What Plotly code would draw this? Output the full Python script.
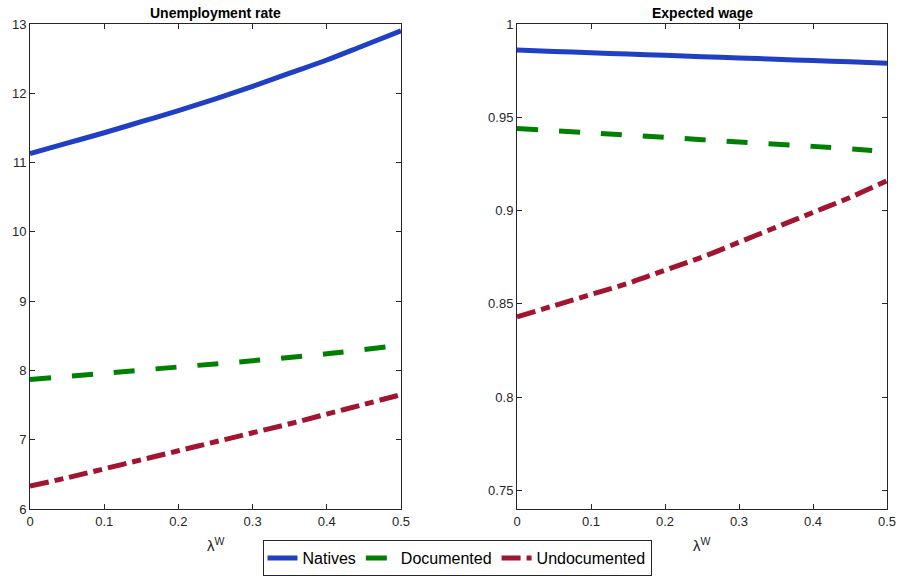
import plotly.graph_objects as go

lam = [0, 0.05, 0.1, 0.15, 0.2, 0.25, 0.3, 0.35, 0.4, 0.45, 0.5]
lam_doc = [0, 0.1, 0.2, 0.3, 0.4, 0.48]

unemp_natives = [11.13, 11.28, 11.43, 11.59, 11.75, 11.92, 12.10, 12.29, 12.48, 12.69, 12.90]
unemp_documented = [7.87, 7.96, 8.05, 8.14, 8.24, 8.34]
unemp_undocumented = [6.33, 6.45, 6.58, 6.71, 6.84, 6.97, 7.10, 7.23, 7.37, 7.51, 7.65]

wage_natives = [0.986, 0.9853, 0.9846, 0.9839, 0.9832, 0.9825, 0.9818, 0.9811, 0.9804, 0.9797, 0.979]
wage_documented = [0.944, 0.9416, 0.9392, 0.9368, 0.9344, 0.9322]
wage_undocumented = [0.843, 0.849, 0.855, 0.861, 0.868, 0.875, 0.883, 0.891, 0.899, 0.907, 0.916]

names = ["Natives", "Documented", "Undocumented"]
colors = ["#1f3fc4", "#008000", "#a2142f"]
dashes = ["solid", "21px,21px", "19px,6px,9px,6px"]

fig = go.Figure()

left = [unemp_natives, unemp_documented, unemp_undocumented]
right = [wage_natives, wage_documented, wage_undocumented]
for i in range(3):
    xs = lam_doc if i == 1 else lam
    fig.add_trace(go.Scatter(x=xs, y=left[i], mode="lines", name=names[i],
                             line=dict(color=colors[i], width=5, dash=dashes[i], shape="spline"),
                             xaxis="x", yaxis="y", legendgroup=names[i]))
for i in range(3):
    xs = lam_doc if i == 1 else lam
    fig.add_trace(go.Scatter(x=xs, y=right[i], mode="lines", name=names[i], showlegend=False,
                             line=dict(color=colors[i], width=5, dash=dashes[i], shape="spline"),
                             xaxis="x2", yaxis="y2", legendgroup=names[i]))

ydom = [1 - 509 / 576, 1 - 24 / 576]
axis_common = dict(showline=True, linecolor="#262626", linewidth=1, mirror="ticks",
                   ticks="inside", ticklen=5, tickcolor="#262626", showgrid=False, zeroline=False,
                   automargin=False,
                   tickfont=dict(family="Liberation Sans, Arial", size=13, color="#262626"))

fig.update_layout(
    width=899, height=576,
    margin=dict(l=0, r=0, t=0, b=0),
    paper_bgcolor="white", plot_bgcolor="white",
    font=dict(family="Liberation Sans, Arial", color="#262626"),
    xaxis=dict(domain=[30 / 899, 401 / 899], range=[0, 0.5], tickvals=[0, 0.1, 0.2, 0.3, 0.4, 0.5],
               ticktext=["0", "0.1", "0.2", "0.3", "0.4", "0.5"], anchor="y", **axis_common),
    yaxis=dict(domain=ydom, range=[6, 13], tickvals=list(range(6, 14)), anchor="x", **axis_common),
    xaxis2=dict(domain=[517 / 899, 887 / 899], range=[0, 0.5], tickvals=[0, 0.1, 0.2, 0.3, 0.4, 0.5],
                ticktext=["0", "0.1", "0.2", "0.3", "0.4", "0.5"], anchor="y2", **axis_common),
    yaxis2=dict(domain=ydom, range=[0.74, 1.0], tickvals=[0.75, 0.8, 0.85, 0.9, 0.95, 1.0],
                ticktext=["0.75", "0.8", "0.85", "0.9", "0.95", "1"], anchor="x2", **axis_common),
    legend=dict(orientation="h", x=457 / 899, xanchor="center", y=1 - 540 / 576, yanchor="top",
                bordercolor="#262626", borderwidth=1, bgcolor="white",
                font=dict(family="Liberation Sans, Arial", size=16, color="black"),
                itemwidth=30, tracegroupgap=0),
    showlegend=True,
    annotations=[
        dict(text="<b>Unemployment rate</b>", x=(30 + 401) / 2 / 899, y=1 - 13 / 576, xref="paper", yref="paper",
             showarrow=False, font=dict(size=14, color="black"), xanchor="center", yanchor="middle"),
        dict(text="<b>Expected wage</b>", x=(517 + 887) / 2 / 899, y=1 - 13 / 576, xref="paper", yref="paper",
             showarrow=False, font=dict(size=14, color="black"), xanchor="center", yanchor="middle"),
        dict(text="λ<sup>W</sup>", x=(30 + 401) / 2 / 899, y=1 - 544 / 576, xref="paper", yref="paper",
             showarrow=False, font=dict(size=15, color="#262626"), xanchor="center", yanchor="middle"),
        dict(text="λ<sup>W</sup>", x=(517 + 887) / 2 / 899, y=1 - 544 / 576, xref="paper", yref="paper",
             showarrow=False, font=dict(size=15, color="#262626"), xanchor="center", yanchor="middle"),
    ],
)

fig.write_html("out.html")
